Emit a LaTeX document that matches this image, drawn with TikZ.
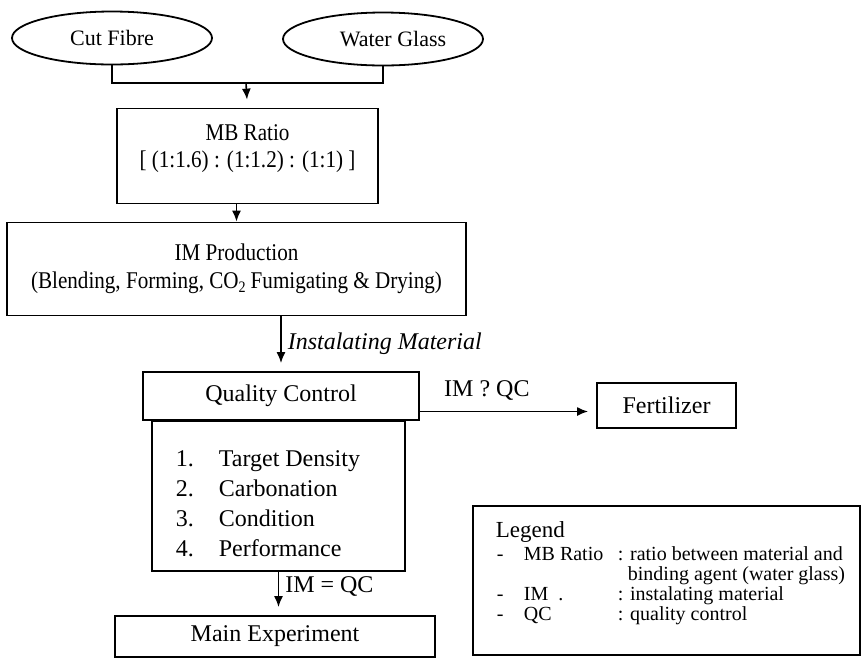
\documentclass[tikz,border=0pt]{standalone}
\usepackage{fontspec}
\setmainfont{Liberation Serif}
\newfontfamily\narrowfont{Liberation Serif}[FakeStretch=0.88]
\usetikzlibrary{arrows.meta, shapes.geometric}

\begin{document}
\begin{tikzpicture}[x=0.5pt, y=-0.5pt, line width=0.9pt,
        source/.style={ellipse, draw, minimum width=100pt, minimum height=26.5pt, font=\fontsize{11}{13}\selectfont},
        box/.style={rectangle, draw, align=center, font=\fontsize{12}{14}\selectfont},
        flowtext/.style={font=\fontsize{12}{14}\selectfont},
        note/.style={font=\fontsize{12}{14}\selectfont\itshape},
        legendtext/.style={anchor=base west, inner sep=0pt, font=\fontsize{10}{11}\selectfont},
        arr/.style={-{Latex[length=5.5pt, width=4.5pt]}, line width=0.8pt, shorten >=4pt}]
    \useasboundingbox (0,0) rectangle (862,660);

    % inputs
    \node[source] at (112, 38) (fibre) {Cut Fibre};
    \node[source] at (383, 39) (glass) {\hspace*{10pt}Water Glass};
    \coordinate (join) at (246, 83);

    % process
    \node[box, minimum width=130.5pt, minimum height=47.5pt] at (247.5, 156) (mb) {};
    \node[flowtext, align=center, font=\narrowfont\fontsize{12}{13.5}\selectfont] at (247.5, 149) (mbtext) {MB Ratio\\{}[ (1:1.6) : (1:1.2) : (1:1) ]};
    \node[box, minimum width=229.5pt, minimum height=46.5pt, font=\narrowfont\fontsize{12}{14}\selectfont] at (236.5, 269) (prod) {IM Production\\(Blending, Forming, CO\textsubscript{2}\,Fumigating \& Drying)};
    \node[box, minimum width=138pt, minimum height=24pt] at (281, 396) (qc) {Quality Control};
    \node[box, minimum width=126.5pt, minimum height=75pt, anchor=north] at (278.5, 420) (checks) {};
    \node[flowtext, anchor=base west, inner sep=0pt, font=\fontsize{12}{15}\selectfont] at (175, 466) (items) {%
        \begin{tabular}[t]{@{}p{21.5pt}@{}l@{}}
            1. & Target Density\\
            2. & Carbonation\\
            3. & Condition\\
            4. & Performance
        \end{tabular}};
    \node[box, minimum width=160pt, minimum height=20.5pt] at (275, 636.5) (main) {Main Experiment};
    \node[box, minimum width=69.5pt, minimum height=22.5pt] at (666.5, 405.5) (fert) {Fertilizer};
    \coordinate (reject) at ([yshift=-3pt]fert.west);

    % legend
    \node[draw, rectangle, minimum width=193.5pt, minimum height=74.5pt] at (666.5, 580.5) (legend) {};
    \node[legendtext, font=\fontsize{11.5}{13}\selectfont] at (495, 537) (leghead) {Legend};
    \node[legendtext] at (496, 560) (legmb) {\makebox[13.5pt][l]{-}\makebox[47pt][l]{MB Ratio}: ratio between material and};
    \node[legendtext] at (627, 580) (legbind) {binding agent (water glass)};
    \node[legendtext] at (496, 600) (legim) {\makebox[13.5pt][l]{-}\makebox[47pt][l]{IM\hspace{5pt}.}: instalating material};
    \node[legendtext] at (496, 620) (legqc) {\makebox[13.5pt][l]{-}\makebox[47pt][l]{QC}: quality control};

    % connectors
    \draw (fibre.south) |- (join) -| (glass.south);
    \draw[arr] (join) -- (mb.north);
    \draw[arr, shorten >=0pt] (mb.south -| prod.north) -- (prod.north);
    \draw[arr] (prod.south -| qc.north) -- node[note, right, inner sep=3pt] (matlabel) {Instalating Material} (qc.north);
    \draw[arr] (qc.east |- reject) -- node[flowtext, above, pos=0.38, yshift=2pt] (faillabel) {IM ? QC} (reject);
    \draw[arr] (checks.south) -- node[flowtext, right, pos=0.35, inner sep=3pt] (passlabel) {IM = QC} (checks.south |- main.north);
\end{tikzpicture}
\end{document}
